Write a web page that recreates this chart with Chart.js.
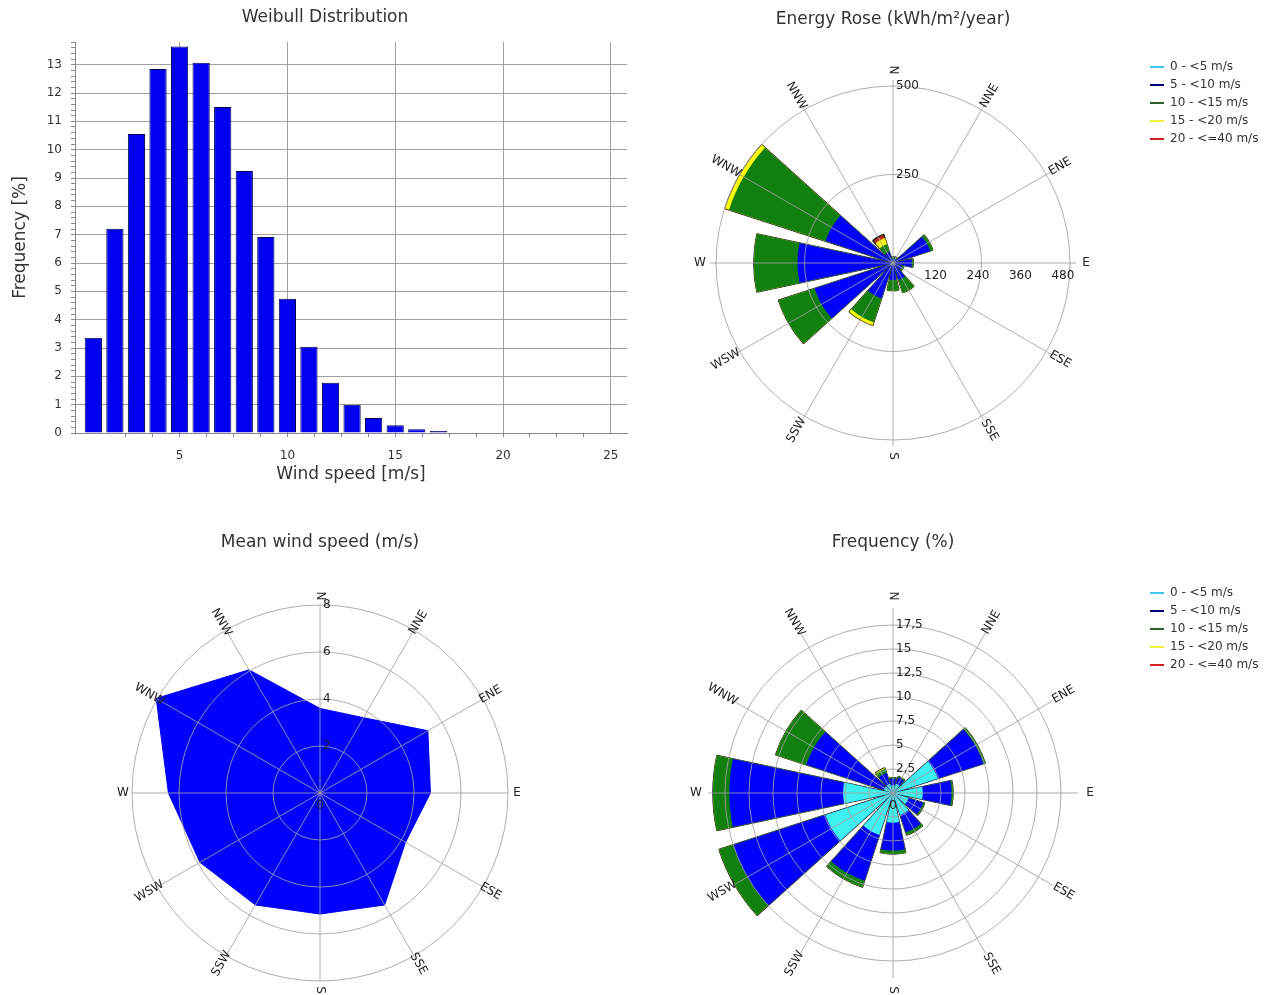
<!DOCTYPE html>
<html lang="en">
<head>
    <meta charset="UTF-8">
    <title>Wind Resource Summary</title>
    <script src="https://cdn.jsdelivr.net/npm/chart.js"></script>
    <style>
        body { margin: 0; background: #fff; width: 1278px; height: 995px; position: relative; overflow: hidden; }
        .panel { position: absolute; }
        #weibullBox { left: 0; top: 0; width: 650px; height: 490px; }
        #energyBox { left: 508px; top: 0; width: 770px; height: 490px; }
        #meanBox { left: 0; top: 500px; width: 640px; height: 495px; }
        #freqBox { left: 508px; top: 500px; width: 770px; height: 495px; }
    </style>
</head>
<body>
    <div class="panel" id="weibullBox"><canvas id="weibullChart"></canvas></div>
    <div class="panel" id="energyBox"><canvas id="energyChart"></canvas></div>
    <div class="panel" id="meanBox"><canvas id="meanChart"></canvas></div>
    <div class="panel" id="freqBox"><canvas id="freqChart"></canvas></div>

<script>
    // ---- data ----
    const windBins = [1, 2, 3, 4, 5, 6, 7, 8, 9, 10, 11, 12, 13, 14, 15, 16, 17];
    const weibullFreq = [3.36, 7.21, 10.55, 12.85, 13.64, 13.07, 11.51, 9.25, 6.92, 4.74, 3.04, 1.77, 1.0, 0.53, 0.27, 0.13, 0.07];
    const speedTicks = [5, 10, 15, 20, 25];

    const directions = ['N', 'NNE', 'ENE', 'E', 'ESE', 'SSE', 'S', 'SSW', 'WSW', 'W', 'WNW', 'NNW'];
    const bandLabels = ['0 - <5 m/s', '5 - <10 m/s', '10 - <15 m/s', '15 - <20 m/s', '20 - <=40 m/s'];

    // energy per speed band (kWh/m²/year)
    const energy0to5 = [2, 2, 4, 3, 2, 3, 3, 4, 6, 4, 1, 1];
    const energy5to10 = [10, 12, 106, 50, 25, 47, 45, 101, 227, 266, 199, 32];
    const energy10to15 = [5, 4, 8, 4, 5, 38, 30, 71, 107, 123, 287, 23];
    const energy15to20 = [0, 0, 0, 0, 0, 0, 0, 9, 0, 0, 12, 18];
    const energy20to40 = [0, 0, 0, 0, 0, 0, 0, 0, 0, 0, 0, 11];
    const energyEastTicks = [120, 240, 360, 480];

    // frequency per speed band (%)
    const freq0to5 = [0.8, 1.0, 4.9, 3.1, 1.7, 2.4, 3.1, 4.6, 7.4, 5.2, 1.0, 1.0];
    const freq5to10 = [0.7, 0.7, 5.0, 3.0, 1.6, 1.9, 2.9, 5.0, 10.1, 11.85, 8.5, 1.2];
    const freq10to15 = [0.1, 0.1, 0.2, 0.15, 0.15, 0.3, 0.35, 0.7, 1.55, 1.7, 3.35, 0.45];
    const freq15to20 = [0, 0, 0, 0, 0, 0, 0, 0, 0, 0, 0, 0.1];
    const freq20to40 = [0, 0, 0, 0, 0, 0, 0, 0, 0, 0, 0, 0];

    const meanSpeed = [3.6, 3.7, 5.3, 4.7, 4.2, 5.5, 5.15, 5.5, 5.9, 6.45, 8.05, 6.05];

    // ---- styling ----
    const bandColors = ['#3ff0f0', '#0000ff', '#118011', '#ffff00', '#c03020'];
    const bandLineColors = ['#3cc8f0', '#000080', '#2e5e2e', '#f0f040', '#d02020'];
    const gridColor = 'rgba(160,160,160,0.85)';
    const FONT = 'Tahoma, "DejaVu Sans", sans-serif';
    Chart.defaults.font.family = FONT;
    Chart.defaults.color = '#333';

    // each sector is a 24° wedge with a 6° gap; N is split across the start/end
    const WEDGE = 24, GAP = 6;
    const sectorAngles = [WEDGE / 2];
    for (let i = 1; i < directions.length; i++) sectorAngles.push(GAP, WEDGE);
    sectorAngles.push(GAP, WEDGE / 2);

    function roseDatasets(bands) {
        let running = directions.map(() => 0);
        return bands.map((band, b) => {
            running = running.map((v, i) => v + band[i]);
            const data = [running[0]];
            for (let i = 1; i < running.length; i++) data.push(0, running[i]);
            data.push(0, running[0]);
            const last = b === bands.length - 1;
            return {
                label: bandLabels[b],
                data: data,
                backgroundColor: bandColors[b],
                borderColor: '#1a1a1a',
                borderWidth: last ? 1.5 : 0,
                angle: ctx => sectorAngles[ctx.dataIndex]
            };
        });
    }

    function roseScale(max, step) {
        return {
            min: 0, max: max, startAngle: 0,
            ticks: { display: false, stepSize: step },
            grid: { circular: true, color: gridColor, z: 1 },
            angleLines: { display: true, color: gridColor },
            pointLabels: { display: false }
        };
    }

    function bandLegend(spacer) {
        return {
            position: 'right', align: 'start', fullSize: true, maxWidth: 120,
            title: { display: true, text: '', font: { size: 12 }, padding: { top: spacer, bottom: 0 } },
            labels: {
                usePointStyle: true, pointStyleWidth: 14, padding: 6, color: '#222', font: { size: 12 },
                generateLabels: chart => chart.data.datasets.map((ds, i) => ({
                    text: ds.label, fillStyle: bandLineColors[i], strokeStyle: bandLineColors[i],
                    lineWidth: 2, pointStyle: 'line', hidden: false, datasetIndex: i
                }))
            }
        };
    }

    // rotated compass labels, angle-line run-out and ring values
    const roseDecor = {
        id: 'roseDecor',
        afterDraw(chart, args, opts) {
            const r = chart.scales.r;
            const ctx = chart.ctx;
            const labels = chart.data.labels;
            ctx.save();
            ctx.strokeStyle = gridColor;
            ctx.lineWidth = 1;
            ctx.beginPath();
            labels.forEach((_, i) => {
                const a = r.getPointPosition(i, r.drawingArea);
                const b = r.getPointPosition(i, opts.lineRadius);
                ctx.moveTo(a.x, a.y);
                ctx.lineTo(b.x, b.y);
            });
            ctx.stroke();

            ctx.fillStyle = '#222';
            ctx.font = '12px ' + FONT;
            ctx.textAlign = 'center';
            ctx.textBaseline = 'middle';
            labels.forEach((label, i) => {
                const p = r.getPointPosition(i, opts.labelRadius);
                let deg = p.angle * 180 / Math.PI;
                while (deg > 90) deg -= 180;
                while (deg <= -90) deg += 180;
                ctx.save();
                ctx.translate(p.x, p.y);
                ctx.rotate(deg * Math.PI / 180);
                ctx.fillText(label, 0, 0);
                ctx.restore();
            });

            const fmt = v => opts.decimalComma ? String(v).replace('.', ',') : String(v);
            ctx.textAlign = 'left';
            r.ticks.forEach(t => {
                if (t.value === 0) return;
                ctx.fillText(fmt(t.value), r.xCenter + 3, r.yCenter - r.getDistanceFromCenterForValue(t.value));
            });
            ctx.textAlign = 'center';
            if (opts.zeroLabel) ctx.fillText('0', r.xCenter, r.yCenter + 13);
            (opts.eastTicks || []).forEach(v => {
                const p = r.getPointPosition(3, r.getDistanceFromCenterForValue(v));
                ctx.fillText(fmt(v), p.x, p.y + 13);
            });
            ctx.restore();
        }
    };

    // ---- Weibull histogram ----
    const isStep = step => t => Math.abs(t.value / step - Math.round(t.value / step)) < 1e-6;
    new Chart(document.getElementById('weibullChart'), {
        type: 'bar',
        data: {
            datasets: [{
                data: windBins.map((x, i) => ({ x: x, y: weibullFreq[i] })),
                xAxisID: 'x', yAxisID: 'y',
                backgroundColor: '#0000f0', borderColor: '#000050', borderWidth: 1,
                barPercentage: 0.8, categoryPercentage: 1
            }]
        },
        options: {
            responsive: true, maintainAspectRatio: false, animation: false,
            plugins: {
                legend: { display: false }, tooltip: { enabled: false },
                title: { display: true, text: 'Weibull Distribution', color: '#333',
                         font: { size: 17, weight: 'normal' }, padding: { top: 7, bottom: 14.6 } }
            },
            scales: {
                x: {
                    type: 'linear', position: 'bottom', weight: 1, min: 0.15, max: 25.75, offset: false,
                    ticks: { stepSize: 5, padding: 12, color: '#333', font: { size: 12 } },
                    afterBuildTicks: s => { s.ticks = speedTicks.map(v => ({ value: v })); },
                    grid: { offset: false, color: '#a0a0a0', drawTicks: false },
                    border: { display: false },
                    title: { display: true, text: 'Wind speed [m/s]', color: '#333', font: { size: 17 }, padding: { top: 0, bottom: 5 } },
                    afterFit: s => { s.height = 53; }
                },
                xMinor: {
                    type: 'linear', axis: 'x', position: 'bottom', weight: 0, min: 0.15, max: 25.75, offset: false,
                    ticks: { display: false, stepSize: 1.25 },
                    afterBuildTicks: s => { s.ticks = s.ticks.filter(isStep(1.25)); },
                    grid: { offset: false, drawOnChartArea: false, drawTicks: true, tickLength: 4, color: '#888' },
                    border: { display: true, color: '#888' }
                },
                y: {
                    type: 'linear', position: 'left', weight: 1, min: 0, max: 13.8,
                    ticks: { stepSize: 1, padding: 9, color: '#333', font: { size: 12 } },
                    afterBuildTicks: s => { s.ticks = s.ticks.filter(isStep(1)); },
                    grid: { color: '#a0a0a0', drawTicks: false },
                    border: { display: false },
                    title: { display: true, text: 'Frequency [%]', color: '#333', font: { size: 17 }, padding: { top: 10, bottom: 0 } },
                    afterFit: s => { s.width = 71; }
                },
                yMinor: {
                    type: 'linear', axis: 'y', position: 'left', weight: 0, min: 0, max: 13.8,
                    ticks: { display: false, stepSize: 0.2 },
                    grid: { drawOnChartArea: false, drawTicks: true, tickLength: 4, color: '#888' },
                    border: { display: true, color: '#888' }
                },
                ySpacer: {
                    type: 'linear', axis: 'y', position: 'right',
                    ticks: { display: false }, grid: { display: false }, border: { display: false },
                    afterFit: s => { s.width = 23; }
                }
            }
        }
    });

    // ---- Energy rose ----
    new Chart(document.getElementById('energyChart'), {
        type: 'polarArea',
        data: { labels: directions, datasets: roseDatasets([energy0to5, energy5to10, energy10to15, energy15to20, energy20to40]) },
        options: {
            responsive: true, maintainAspectRatio: false, animation: false,
            layout: { padding: { left: 134, right: 14, top: 0, bottom: 50 } },
            scales: { r: roseScale(500, 250) },
            plugins: {
                tooltip: { enabled: false },
                title: { display: true, fullSize: false, text: 'Energy Rose (kWh/m²/year)', color: '#333',
                         font: { size: 17, weight: 'normal' }, padding: { top: 9.8, bottom: 55.8 } },
                legend: bandLegend(40.6),
                roseDecor: { labelRadius: 193, lineRadius: 183, eastTicks: energyEastTicks, zeroLabel: false }
            }
        },
        plugins: [roseDecor]
    });

    // ---- Mean wind speed ----
    new Chart(document.getElementById('meanChart'), {
        type: 'radar',
        data: {
            labels: directions,
            datasets: [{ data: meanSpeed, fill: 'origin', backgroundColor: '#0000ff', borderColor: '#0000ee',
                         borderWidth: 1, pointRadius: 0, tension: 0 }]
        },
        options: {
            responsive: true, maintainAspectRatio: false, animation: false,
            layout: { padding: { bottom: 14 } },
            scales: { r: roseScale(8, 2) },
            plugins: {
                legend: { display: false }, tooltip: { enabled: false },
                title: { display: true, text: 'Mean wind speed (m/s)', color: '#333',
                         font: { size: 17, weight: 'normal' }, padding: { top: 32.8, bottom: 51.8 } },
                roseDecor: { labelRadius: 197, lineRadius: 188, zeroLabel: true }
            }
        },
        plugins: [roseDecor]
    });

    // ---- Frequency rose ----
    new Chart(document.getElementById('freqChart'), {
        type: 'polarArea',
        data: { labels: directions, datasets: roseDatasets([freq0to5, freq5to10, freq10to15, freq15to20, freq20to40]) },
        options: {
            responsive: true, maintainAspectRatio: false, animation: false,
            layout: { padding: { left: 134, right: 14, top: 0, bottom: 34 } },
            scales: { r: roseScale(17.5, 2.5) },
            plugins: {
                tooltip: { enabled: false },
                title: { display: true, fullSize: false, text: 'Frequency (%)', color: '#333',
                         font: { size: 17, weight: 'normal' }, padding: { top: 32.8, bottom: 71.8 } },
                legend: bandLegend(66.6),
                roseDecor: { labelRadius: 197, lineRadius: 185, zeroLabel: true, decimalComma: true }
            }
        },
        plugins: [roseDecor]
    });
</script>
</body>
</html>
